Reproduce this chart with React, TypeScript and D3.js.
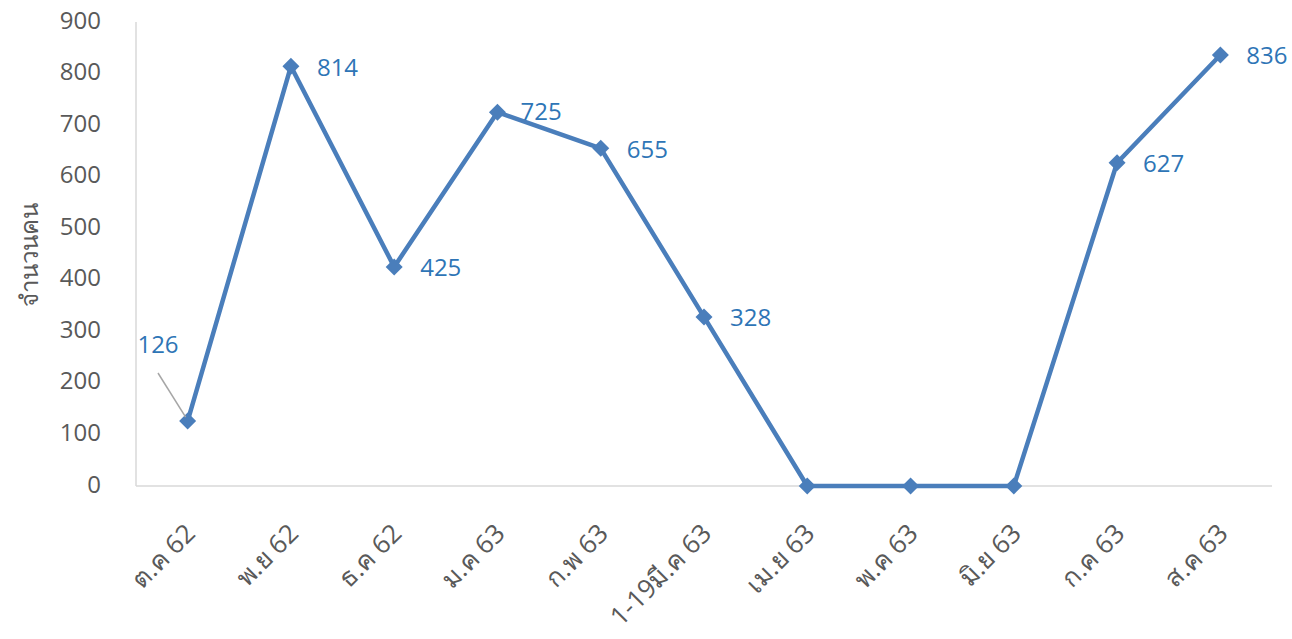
import React from "react";
import * as d3 from "d3";

const categories = ["ต.ค 62", "พ.ย 62", "ธ.ค 62", "ม.ค 63", "ก.พ 63", "1-19มี.ค 63", "เม.ย 63", "พ.ค 63", "มิ.ย 63", "ก.ค 63", "ส.ค 63"];
const values = [126, 814, 425, 725, 655, 328, 0, 0, 0, 627, 836];
const showLabel = [true, true, true, true, true, true, false, false, false, true, true];
const yTicks = [0, 100, 200, 300, 400, 500, 600, 700, 800, 900];
const yTitle = "จำนวนคน";

const W = 1292, H = 639;
const left = 136, right = 1272, top = 22, bottom = 486;
const font = "'Open Sans', 'Noto Sans', 'DejaVu Sans', sans-serif";

export default function App() {
  const x = d3.scaleBand<string>().domain(categories).range([left, right]);
  const y = d3.scaleLinear().domain([0, 900]).range([bottom, top]);
  const cx = (c: string) => (x(c) as number) + x.bandwidth() / 2;
  const line = d3.line<number>().x((_, i) => cx(categories[i])).y((v) => y(v));
  const d = 8.5;
  return (
    <svg width={W} height={H} style={{ position: "absolute", left: 0, top: 0, background: "#fff" }}>
      <line x1={left} x2={left} y1={top} y2={bottom} stroke="#d9d9d9" strokeWidth={1.5} />
      <line x1={left} x2={right} y1={bottom} y2={bottom} stroke="#d9d9d9" strokeWidth={1.5} />
      {yTicks.map((t) => (
        <text key={t} x={101} y={y(t) - 3} textAnchor="end" dominantBaseline="central" fontSize={24} fill="#595959" fontFamily={font}>{t}</text>
      ))}
      <text transform={`translate(28,255) rotate(-90)`} textAnchor="middle" dominantBaseline="central" fontSize={24} fill="#595959" fontFamily={font}>{yTitle}</text>
      {categories.map((c) => (
        <text key={c} transform={`translate(${cx(c) + 2},${bottom + 42}) rotate(-45)`} textAnchor="end" dominantBaseline="central" fontSize={26} fill="#595959" fontFamily={font}>{c}</text>
      ))}
      <path d={line(values) || ""} fill="none" stroke="#4a7ebb" strokeWidth={4.5} strokeLinejoin="round" />
      {values.map((v, i) => (
        <path key={i} d={`M${cx(categories[i])},${y(v) - d}L${cx(categories[i]) + d},${y(v)}L${cx(categories[i])},${y(v) + d}L${cx(categories[i]) - d},${y(v)}Z`} fill="#4a7ebb" />
      ))}
      <line x1={158} y1={373} x2={cx(categories[0]) - 2} y2={y(values[0]) - 4} stroke="#a6a6a6" strokeWidth={1.5} />
      {values.map((v, i) => {
        if (!showLabel[i]) return null;
        const px = cx(categories[i]);
        let lx = px + 26, ly = y(v), anchor = "start";
        if (i === 0) { lx = 158; ly = 343; anchor = "middle"; }
        if (i === 3) { lx = px + 23; ly = y(v) - 2; }
        return (
          <text key={i} x={lx} y={ly} textAnchor={anchor} dominantBaseline="central" fontSize={24} fill="#2e75b6" fontFamily={font}>{v}</text>
        );
      })}
    </svg>
  );
}
